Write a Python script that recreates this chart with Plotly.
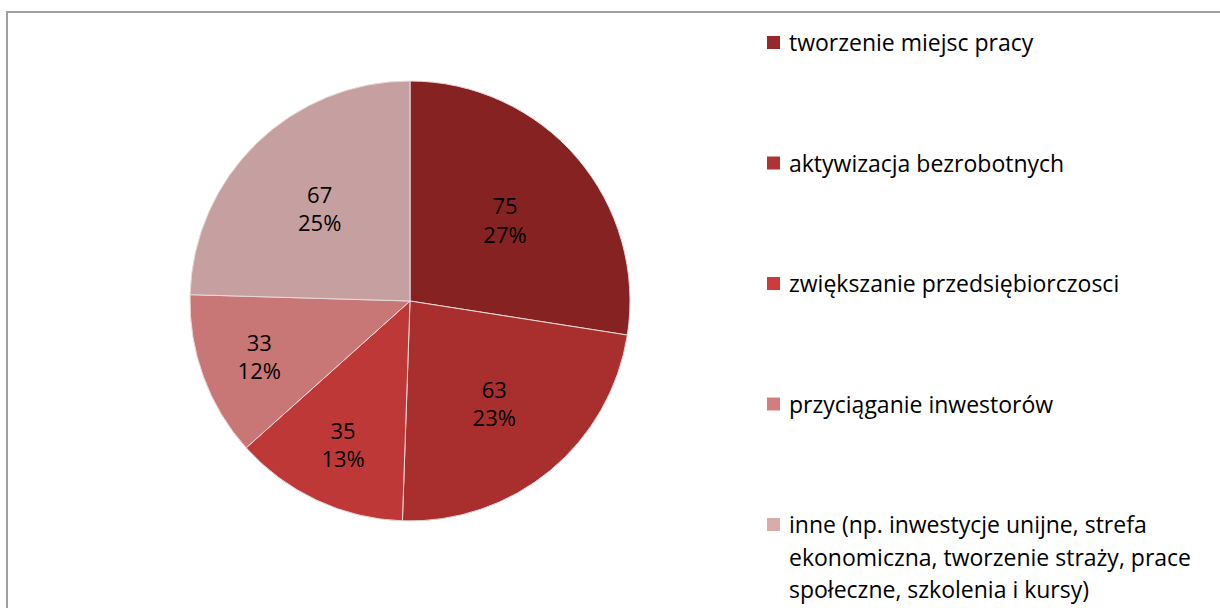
import plotly.graph_objects as go

labels = [
    "tworzenie miejsc pracy",
    "aktywizacja bezrobotnych",
    "zwiększanie przedsiębiorczosci",
    "przyciąganie inwestorów",
    "inne (np. inwestycje unijne, strefa<br>ekonomiczna, tworzenie straży, prace<br>społeczne, szkolenia i kursy)",
]
values = [75, 63, 35, 33, 67]
colors = ["#872222", "#a92f2f", "#bf3838", "#c97676", "#c6a0a0"]
legend_colors = ["#962a2a", "#b03333", "#cd3c3c", "#d27e7e", "#d9acac"]

W, H = 1220, 608
FONT = "Open Sans, Lato, sans-serif"

fig = go.Figure(
    go.Pie(
        labels=labels,
        values=values,
        sort=False,
        direction="clockwise",
        rotation=0,
        marker=dict(colors=colors, line=dict(color="#e8d8d8", width=1)),
        texttemplate="%{value}<br>%{percent:.0%}",
        textposition="inside",
        insidetextorientation="horizontal",
        textfont=dict(family=FONT, size=22, color="black"),
        hoverinfo="label+value+percent",
        showlegend=False,
        domain=dict(x=[190 / W, 630 / W], y=[(H - 521) / H, (H - 81) / H]),
    )
)

# legend drawn by hand so the entries can be spaced like the original
shapes = [
    dict(type="rect", xref="paper", yref="paper",
         x0=7 / W, x1=1.05, y0=-0.1, y1=(H - 12) / H,
         line=dict(color="#a0a0a0", width=2), fillcolor="rgba(0,0,0,0)"),
]
annotations = []
for i, (lab, col) in enumerate(zip(labels, legend_colors)):
    yc = 42 + i * 120.5
    shapes.append(dict(type="rect", xref="paper", yref="paper",
                       x0=767 / W, x1=780 / W,
                       y0=(H - yc - 7) / H, y1=(H - yc + 6) / H,
                       line=dict(width=0), fillcolor=col))
    for j, line in enumerate(lab.split("<br>")):
        annotations.append(dict(
            text=line, xref="paper", yref="paper",
            x=787 / W, y=(H - yc - j * 32.5) / H,
            xanchor="left", yanchor="middle", align="left", showarrow=False,
            font=dict(family=FONT, size=23, color="black"),
        ))

fig.update_layout(
    width=W,
    height=H,
    margin=dict(l=0, r=0, t=0, b=0),
    paper_bgcolor="white",
    plot_bgcolor="white",
    shapes=shapes,
    annotations=annotations,
)

fig.write_html("out.html", config={"displayModeBar": False},
               post_script="document.body.style.margin='0';")
